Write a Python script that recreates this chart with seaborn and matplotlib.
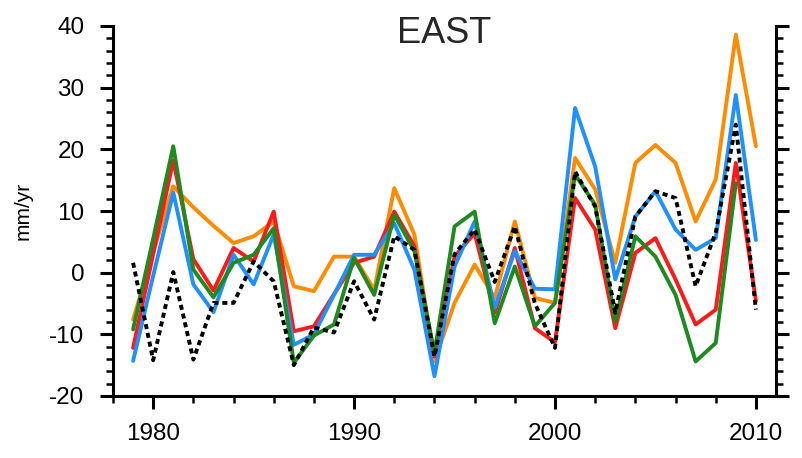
import numpy as np
import pandas as pd
import matplotlib
matplotlib.use("Agg")
import matplotlib.pyplot as plt
import seaborn as sns
from matplotlib.ticker import MultipleLocator

years = list(range(1979, 2011))

orange = [-7.6, 3.3, 14.0, 10.6, 7.6, 4.8, 5.9, 8.3, -2.2, -3.0, 2.6, 2.6, -2.8, 13.7, 6.2, -14.4,
          -4.9, 1.3, -4.1, 8.3, -4.1, -4.9, 18.6, 13.5, 1.6, 17.8, 20.7, 17.8, 8.3, 15.1, 38.6, 20.5]
red = [-12.2, 3.0, 18.2, 2.2, -2.9, 4.0, 1.8, 9.9, -9.5, -8.7, -3.5, 1.6, 2.6, 9.9, 4.3, -13.6,
       2.6, 6.4, -6.5, 4.0, -9.0, -11.3, 12.1, 7.0, -9.0, 3.2, 5.6, -1.1, -8.4, -6.0, 17.8, -4.6]
green = [-9.2, 5.5, 20.5, 0.5, -4.0, 1.6, 2.9, 7.2, -14.6, -10.2, -8.4, 2.4, -3.6, 9.4, 3.5, -13.0,
         7.5, 9.9, -8.2, 1.0, -8.7, -4.9, 15.9, 11.0, -7.9, 5.9, 2.6, -3.6, -14.4, -11.4, 14.5, np.nan]
blue = [-14.3, -0.5, 13.0, -1.9, -6.4, 2.9, -1.9, 6.2, -11.7, -10.0, -3.6, 2.9, 2.9, 8.0, 0.5, -16.8,
        1.0, 8.3, -5.7, 3.5, -2.6, -2.7, 26.7, 17.2, -1.1, 9.1, 13.2, 7.0, 3.7, 5.6, 28.8, 5.3]
black = [1.6, -14.2, 0.1, -14.1, -4.9, -4.9, 1.8, -1.4, -15.0, -8.9, -9.7, -1.4, -7.6, 5.9, 3.7, -13.6,
         3.0, 7.0, -1.5, 7.5, -5.0, -12.2, 16.4, 10.7, -6.5, 9.1, 13.2, 12.1, -2.2, 6.5, 24.0, -6.0]

title = "EAST"
ylabel = "mm/yr"
xticks = [1980, 1990, 2000, 2010]
yticks = [-20, -10, 0, 10, 20, 30, 40]

sns.set_style("ticks")
plt.rcParams['font.family'] = ['Liberation Sans', 'DejaVu Sans']
plt.rcParams['axes.unicode_minus'] = False

fig = plt.figure(figsize=(8.03, 4.58), dpi=100)
ax = fig.add_axes([113/803, 1 - 396/458, (776-113)/803, (396-26)/458])

series = [
    (orange, "#FF8C00"),
    (red, "#FF1A1A"),
    (blue, "#1E90FF"),
    (green, "#1F8A1F"),
]
for vals, col in series:
    df = pd.DataFrame({"year": years, "val": vals}).dropna()
    sns.lineplot(data=df, x="year", y="val", ax=ax, color=col, linewidth=2.8,
                 estimator=None, sort=False)
dfb = pd.DataFrame({"year": years, "val": black})
sns.lineplot(data=dfb, x="year", y="val", ax=ax, color="black", linewidth=2.8,
             estimator=None, sort=False)
ax.lines[-1].set_dashes((1.3, 1.0))
ax.lines[-1].set_dash_capstyle("butt")

ax.set_xlim(1978, 2011)
ax.set_ylim(-20, 40)
ax.set_xticks(xticks)
ax.set_yticks(yticks)
ax.xaxis.set_minor_locator(MultipleLocator(2))
ax.yaxis.set_minor_locator(MultipleLocator(2))

for s in ["left", "right", "bottom"]:
    ax.spines[s].set_visible(True)
    ax.spines[s].set_linewidth(2.2)
    ax.spines[s].set_color("black")
ax.spines["top"].set_visible(False)

ax.tick_params(axis="both", which="major", direction="out", length=9.5, width=2.2,
               labelsize=17.5, colors="black")
ax.tick_params(axis="both", which="minor", direction="out", length=5, width=1.8, colors="black")
ax.tick_params(axis="y", which="both", left=True, right=True, labelright=False)
ax.tick_params(axis="x", which="both", top=False)
ax.tick_params(axis="y", which="major", pad=11)
ax.tick_params(axis="x", which="major", pad=10)

ax.set_xlabel("")
ax.set_ylabel(ylabel)
ax.yaxis.label.set_size(15)
ax.yaxis.label.set_color("black")
ax.yaxis.set_label_coords(-0.122, 0.5)
ax.text(0.5, 0.954, title, transform=ax.transAxes, ha="center", va="baseline", fontsize=26)

fig.savefig("out.png", dpi=100, facecolor="white")
